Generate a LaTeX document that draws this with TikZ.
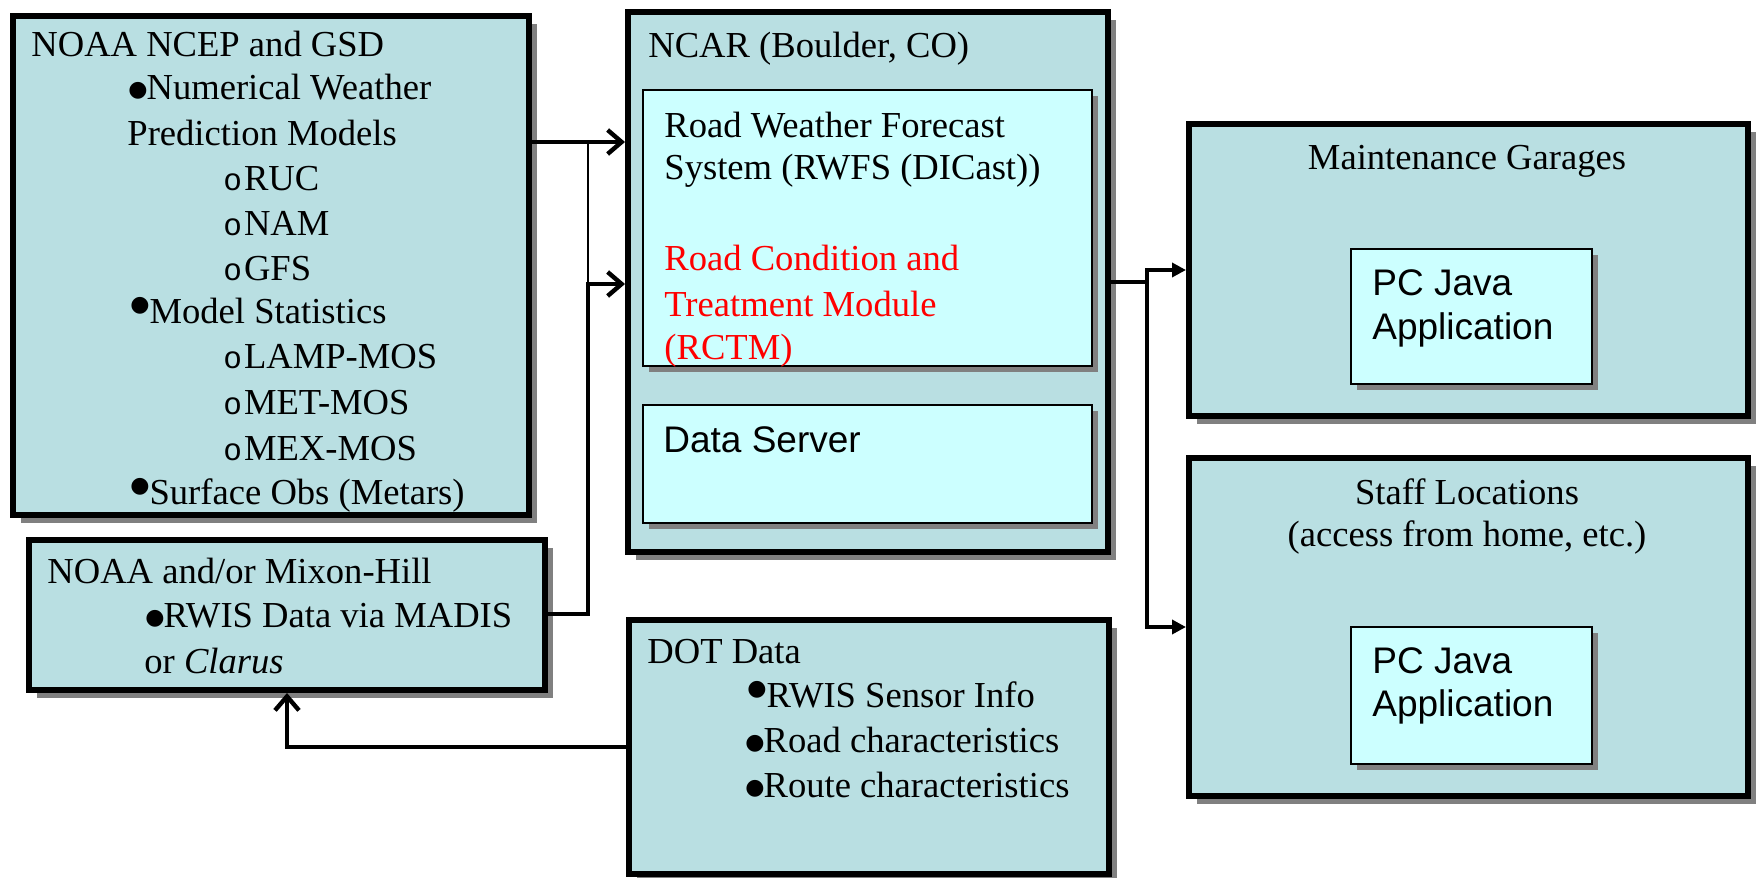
\documentclass[tikz,border=0pt]{standalone}
\usepackage{fontspec}
\setmainfont{Liberation Serif}
\setsansfont{Liberation Sans}
\newfontfamily\monofam{Liberation Mono}
\newfontfamily\djv{DejaVu Sans}
\usetikzlibrary{arrows.meta,shadows,fit}
\definecolor{boxteal}{RGB}{185,223,226}
\definecolor{innercyan}{RGB}{204,255,255}
\definecolor{shadowgray}{RGB}{128,128,128}
\newcommand{\rmtext}{\fontsize{18.3pt}{22pt}\selectfont}
\newcommand{\sftext}{\sffamily\fontsize{18.5pt}{22pt}\selectfont}
\newcommand{\bul}{\raisebox{1.3pt}{\djv\fontsize{11pt}{11pt}\selectfont ●}\kern-0.5pt}
\newcommand{\hb}{\raisebox{5.8pt}{\djv\fontsize{11pt}{11pt}\selectfont ●}\kern0pt}
\newcommand{\subb}{\scalebox{0.85}{\monofam o}\kern1pt}
\begin{document}
\begin{tikzpicture}[x=0.5pt,y=-0.5pt,
 outerbox/.style={draw=black, line width=3pt, fill=boxteal, inner sep=0pt,
   drop shadow={shadow xshift=4pt, shadow yshift=-4pt, fill=shadowgray, opacity=1}},
 innerbox/.style={draw=black, line width=1.3pt, fill=innercyan, inner sep=0pt,
   drop shadow={shadow xshift=3pt, shadow yshift=-3pt, fill=shadowgray, opacity=1}},
 txt/.style={anchor=base west, inner sep=0pt, font=\rmtext},
 ctxt/.style={anchor=base, inner sep=0pt, font=\rmtext},
 sftxt/.style={anchor=base west, inner sep=0pt, font=\sftext},
 conn/.style={line width=2.2pt, line join=miter},
 openhead/.style={-{Straight Barb[length=7pt,width=12pt]}},
 filledheads/.style={{Triangle[length=7pt,width=7pt]}-{Triangle[length=7pt,width=7pt]}}
]
\useasboundingbox (0,0) rectangle (1757,878);

% boxes
\node[outerbox, fit={(13,16) (529,515)}] (ncep) {};
\node[outerbox, fit={(29,540) (545,690)}] (mixon) {};
\node[outerbox, fit={(628,12) (1108,552)}] (ncar) {};
\node[innerbox, fit={(643,90) (1092,366)}] (rwfs) {};
\node[innerbox, fit={(643,405) (1092,523)}] (dserver) {};
\node[outerbox, fit={(629,620) (1109,874)}] (dot) {};
\node[outerbox, fit={(1189,124) (1748,416)}] (maint) {};
\node[innerbox, fit={(1351,249) (1592,384)}] (pc1) {};
\node[outerbox, fit={(1189,458) (1748,796)}] (staff) {};
\node[innerbox, fit={(1351,627) (1592,764)}] (pc2) {};

% NCEP texts
\node[txt] (t1) at (31,56) {NOAA NCEP and GSD};
\node[txt] (t2) at (128,99) {\bul Numerical Weather};
\node[txt] (t3) at (127,145) {Prediction Models};
\node[txt] (t4) at (223,190) {\subb RUC};
\node[txt] (t5) at (223,235) {\subb NAM};
\node[txt] (t6) at (223,280) {\subb GFS};
\node[txt] (t7) at (130,323) {\hb Model Statistics};
\node[txt] (t8) at (223,368) {\subb LAMP-MOS};
\node[txt] (t9) at (223,414) {\subb MET-MOS};
\node[txt] (t10) at (223,460) {\subb MEX-MOS};
\node[txt] (t11) at (130,504) {\hb Surface Obs (Metars)};

% Mixon texts
\node[txt] (m1) at (47,583) {NOAA and/or Mixon-Hill};
\node[txt] (m2) at (145,627) {\bul RWIS Data via MADIS};
\node[txt] (m3) at (144,673) {or \textit{Clarus}};

% NCAR texts
\node[txt] (n1) at (648,57) {NCAR (Boulder, CO)};
\node[txt] (r1) at (664,137) {Road Weather Forecast};
\node[txt] (r2) at (664,179) {System (RWFS (DICast))};
\node[txt, text=red] (r3) at (664,270) {Road Condition and};
\node[txt, text=red] (r4) at (664,316) {Treatment Module};
\node[txt, text=red] (r5) at (664,359) {(RCTM)};
\node[sftxt] (d1) at (663,452) {Data Server};

% right texts
\node[ctxt] (g1) at (1467,169) {Maintenance Garages};
\node[sftxt] (p1) at (1372,295) {PC Java};
\node[sftxt] (p2) at (1372,339) {Application};
\node[ctxt] (s1) at (1467,504) {Staff Locations};
\node[ctxt] (s2) at (1467,546) {(access from home, etc.)};
\node[sftxt] (p3) at (1372,673) {PC Java};
\node[sftxt] (p4) at (1372,716) {Application};

% DOT texts
\node[txt] (o1) at (647,663) {DOT Data};
\node[txt] (o2) at (747,707) {\hb RWIS Sensor Info};
\node[txt] (o3) at (745,752) {\bul Road characteristics};
\node[txt] (o4) at (745,797) {\bul Route characteristics};

% junctions
\coordinate (j1) at (588,142);
\coordinate (j2) at (588,284);
\coordinate (j3) at (588,614);
\coordinate (j4) at (1147,282);
\coordinate (j5) at (1147,270);
\coordinate (j6) at (1147,627);
\coordinate (j7) at (287,747);

% connectors
\draw[conn, openhead] (ncep.east |- j1) -- (ncar.west |- j1);
\draw[line width=0.8pt] (j1) -- (j2);
\draw[conn, openhead] (mixon.east |- j3) -- (j3) -- (j2) -- (ncar.west |- j2);
\draw[conn] (ncar.east |- j4) -- (j4);
\draw[conn, filledheads] (maint.west |- j5) -- (j5) -- (j6) -- (staff.west |- j6);
\draw[conn, openhead] (dot.west |- j7) -- (j7) -- (mixon.south -| j7);
\end{tikzpicture}
\end{document}
